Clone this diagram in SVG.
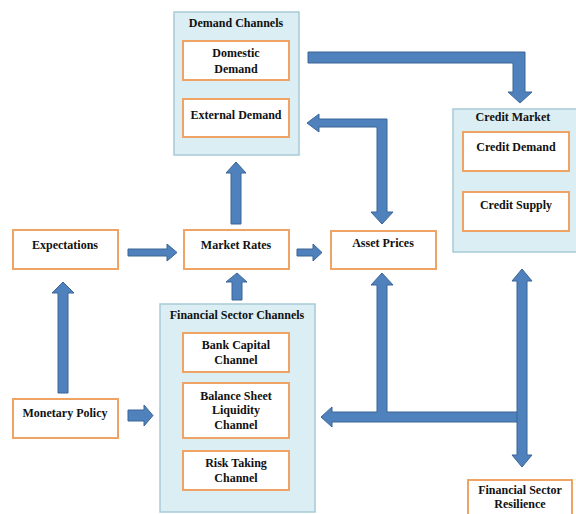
<svg xmlns="http://www.w3.org/2000/svg" width="576" height="514" viewBox="0 0 576 514" font-family="'Liberation Serif', 'Times New Roman', serif">
<style>
.panel{fill:#DAEEF3;stroke:#A8CAD6;stroke-width:1.5}
.box{fill:#FFFFFF;stroke:#EFA466;stroke-width:2}
.arrow{fill:#4F81BD;stroke:#3A6596;stroke-width:1}
.t{font-family:'Liberation Serif','Times New Roman',serif;font-weight:bold;font-size:12px;fill:#111;text-anchor:middle}
</style>
<rect width="576" height="514" fill="#FFFFFF"/>
<g id="demand-channels">
<rect class="panel" x="174" y="12" width="125" height="143"/>
<text class="t" x="236" y="27">Demand Channels</text>
</g>
<g id="domestic-demand">
<rect class="box" x="183" y="41" width="106" height="39"/>
<text class="t" x="236" y="57">Domestic</text>
<text class="t" x="236" y="73">Demand</text>
</g>
<g id="external-demand">
<rect class="box" x="183" y="99" width="106" height="38"/>
<text class="t" x="236" y="119">External Demand</text>
</g>
<g id="credit-market">
<rect class="panel" x="453" y="109" width="126" height="143"/>
<text class="t" x="513" y="121">Credit Market</text>
</g>
<g id="credit-demand">
<rect class="box" x="463" y="132" width="106" height="39"/>
<text class="t" x="516" y="151">Credit Demand</text>
</g>
<g id="credit-supply">
<rect class="box" x="463" y="192" width="106" height="39"/>
<text class="t" x="516" y="209">Credit Supply</text>
</g>
<g id="expectations">
<rect class="box" x="13" y="230" width="105" height="39"/>
<text class="t" x="65" y="249">Expectations</text>
</g>
<g id="market-rates">
<rect class="box" x="184" y="230" width="105" height="39"/>
<text class="t" x="236" y="249">Market Rates</text>
</g>
<g id="asset-prices">
<rect class="box" x="331" y="231" width="105" height="38"/>
<text class="t" x="383" y="247">Asset Prices</text>
</g>
<g id="financial-sector-channels">
<rect class="panel" x="160" y="304" width="155" height="208"/>
<text class="t" x="237" y="319">Financial Sector Channels</text>
</g>
<g id="bank-capital-channel">
<rect class="box" x="183" y="333" width="106" height="39"/>
<text class="t" x="236" y="349">Bank Capital</text>
<text class="t" x="236" y="364">Channel</text>
</g>
<g id="balance-sheet-liquidity-channel">
<rect class="box" x="183" y="383" width="106" height="55"/>
<text class="t" x="236" y="400">Balance Sheet</text>
<text class="t" x="236" y="414">Liquidity</text>
<text class="t" x="236" y="429">Channel</text>
</g>
<g id="risk-taking-channel">
<rect class="box" x="183" y="451" width="106" height="39"/>
<text class="t" x="236" y="467">Risk Taking</text>
<text class="t" x="236" y="482">Channel</text>
</g>
<g id="monetary-policy">
<rect class="box" x="13" y="399" width="105" height="39"/>
<text class="t" x="65" y="417">Monetary Policy</text>
</g>
<g id="financial-sector-resilience">
<rect class="box" x="468" y="480" width="104" height="40"/>
<text class="t" x="520" y="494">Financial Sector</text>
<text class="t" x="520" y="508">Resilience</text>
</g>
<g id="connectors">
<polygon class="arrow" points="308,52 525,52 525,92 532,92 520,103 508,92 513,92 513,63 308,63"/>
<polygon class="arrow" points="307,123 319,114 319,119 387,119 387,212 393,212 382,224 371,212 377,212 377,127 319,127 319,132"/>
<polygon class="arrow" points="128,249 167,249 167,244 177,252.5 167,261 167,256 128,256"/>
<polygon class="arrow" points="297,249 313,249 313,244 322,252.5 313,261 313,256 297,256"/>
<polygon class="arrow" points="231,224 231,173 226,173 236,162 246,173 241,173 241,224"/>
<polygon class="arrow" points="232,300 232,282 226,282 237,273 247,282 242,282 242,300"/>
<polygon class="arrow" points="58,393 58,293 52,293 63,282 74,293 68,293 68,393"/>
<polygon class="arrow" points="128,410 144,410 144,405 153,415.5 144,426 144,421 128,421"/>
<polygon class="arrow" points="321,417 332,407 332,412 377,412 377,285 371,285 382,273 393,285 387,285 387,412 520,412 520,422 332,422 332,427"/>
<polygon class="arrow" points="522,269 532,281 527,281 527,455 532,455 522,467 512,455 517,455 517,281 512,281"/>
</g>
</svg>
